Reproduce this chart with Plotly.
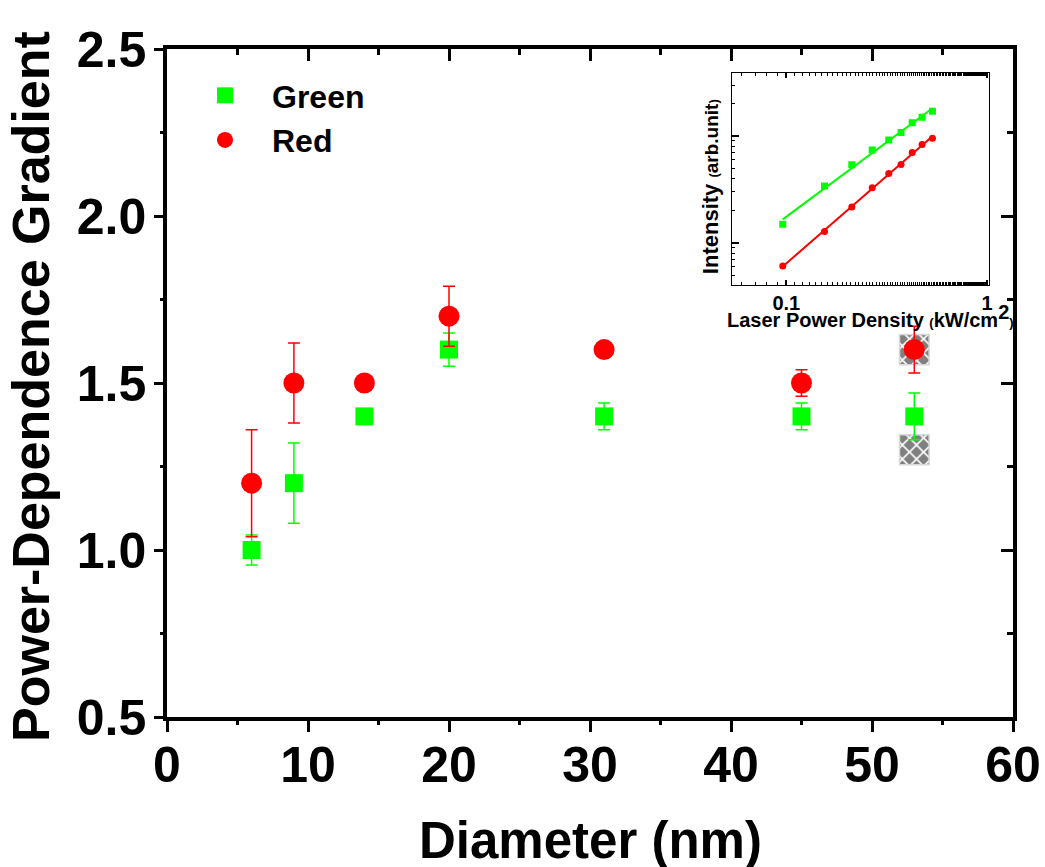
import numpy as np
import plotly.graph_objects as go

# ---------------- data (main panel) ----------------
diameter = [6, 9, 14, 20, 31, 45, 53]
green_grad = [1.0, 1.2, 1.4, 1.6, 1.4, 1.4, 1.4]
green_err = [0.045, 0.12, 0.02, 0.05, 0.04, 0.04, 0.07]
red_grad = [1.2, 1.5, 1.5, 1.7, 1.6, 1.5, 1.6]
red_err = [0.16, 0.12, 0.0, 0.09, 0.0, 0.04, 0.07]
hatch_x = [53, 53]
hatch_y = [1.6, 1.3]

# ---------------- data (inset) ----------------
power = [0.096, 0.155, 0.212, 0.268, 0.324, 0.373, 0.424, 0.475, 0.535]
green_int = [150, 341, 538, 740, 920, 1079, 1330, 1496, 1702]
red_int = [61, 128, 217, 329, 446, 542, 703, 832, 953]

x_ticks = [0, 10, 20, 30, 40, 50, 60]
y_ticks = [0.5, 1.0, 1.5, 2.0, 2.5]

FONT = "Arial, Liberation Sans, sans-serif"
GREEN = "#00ff00"
RED = "#ff0000"

fig = go.Figure()

# hatched reference squares
fig.add_trace(go.Bar(
    x=hatch_x, y=[0.09] * len(hatch_y), base=[v - 0.045 for v in hatch_y],
    width=2.1, showlegend=False, hoverinfo="skip",
    marker=dict(color="#808080",
                pattern=dict(shape="x", fgcolor="white", bgcolor="#808080",
                             size=10, solidity=0.3, fillmode="replace"),
                line=dict(color="#d8d8d8", width=1.5)),
))

fig.add_trace(go.Scatter(
    x=diameter, y=green_grad, mode="markers", name="Green",
    marker=dict(symbol="square", size=18, color=GREEN),
    error_y=dict(type="data", array=green_err, color=GREEN, thickness=1.5, width=6),
))
fig.add_trace(go.Scatter(
    x=diameter, y=red_grad, mode="markers", name="Red",
    marker=dict(symbol="circle", size=21, color=RED),
    error_y=dict(type="data", array=red_err, color=RED, thickness=1.5, width=6),
))

# invisible anchor traces so the tick-only overlay axes get drawn
for xa, ya in [("x3", "y"), ("x4", "y"), ("x", "y3"), ("x", "y4")]:
    fig.add_trace(go.Scatter(x=[diameter[0]], y=[green_grad[0]], xaxis=xa, yaxis=ya,
                             mode="markers", marker=dict(opacity=0), showlegend=False,
                             hoverinfo="skip"))

# inset fits (log-log linear regression)
def fit_line(xv, yv):
    lx = np.log10(np.array(xv))
    ly = np.log10(np.array(yv))
    k, b = np.polyfit(lx, ly, 1)
    xe = np.array([xv[0], xv[-1]])
    return xe, 10 ** (k * np.log10(xe) + b)

for yv, col, sym in [(green_int, GREEN, "square"), (red_int, RED, "circle")]:
    xe, ye = fit_line(power, yv)
    fig.add_trace(go.Scatter(x=xe, y=ye, mode="lines", line=dict(color=col, width=2),
                             xaxis="x2", yaxis="y2", showlegend=False, hoverinfo="skip"))
    fig.add_trace(go.Scatter(x=power, y=yv, mode="markers",
                             marker=dict(symbol=sym, size=7, color=col),
                             xaxis="x2", yaxis="y2", showlegend=False))

ax_common = dict(showgrid=False, zeroline=False, linecolor="black", linewidth=3.5,
                 tickwidth=3, automargin=False)
tick_only = dict(showticklabels=False, showline=False, showgrid=False, zeroline=False,
                 tickcolor="black", tickwidth=3)

fig.update_layout(
    width=1045, height=867,
    margin=dict(l=167, r=32, t=49, b=150, autoexpand=False),
    paper_bgcolor="white", plot_bgcolor="white",
    barmode="overlay",
    font=dict(family=FONT, color="black"),
    # main axes: labels + lines (major tick marks drawn by overlay axes below)
    xaxis=dict(range=[0, 60], tickvals=x_ticks, ticks="outside", ticklen=1,
               tickcolor="rgba(0,0,0,0)", mirror=True, showline=True,
               tickfont=dict(size=50, family=FONT, weight="bold"), **ax_common),
    yaxis=dict(range=[0.5, 2.5], tickvals=y_ticks, tickformat=".1f", ticks="outside", ticklen=7,
               tickcolor="rgba(0,0,0,0)", mirror=True, showline=True,
               tickfont=dict(size=50, family=FONT, weight="bold"), **ax_common),
    # bottom / left tick marks (outside)
    xaxis4=dict(overlaying="x", side="bottom", anchor="y", range=[0, 60], tickvals=x_ticks,
                ticks="outside", ticklen=14,
                minor=dict(dtick=5, ticks="outside", ticklen=7, tickwidth=3, tickcolor="black"),
                **tick_only),
    yaxis4=dict(overlaying="y", side="left", anchor="x", range=[0.5, 2.5], tickvals=y_ticks,
                ticks="outside", ticklen=12,
                minor=dict(dtick=0.25, ticks="outside", ticklen=6, tickwidth=3, tickcolor="black"),
                **tick_only),
    # top / right tick marks (inside)
    xaxis3=dict(overlaying="x", side="top", anchor="y", range=[0, 60], tickvals=x_ticks,
                ticks="inside", ticklen=12,
                minor=dict(dtick=5, ticks="inside", ticklen=6, tickwidth=3, tickcolor="black"),
                **tick_only),
    yaxis3=dict(overlaying="y", side="right", anchor="x", range=[0.5, 2.5], tickvals=y_ticks,
                ticks="inside", ticklen=12,
                minor=dict(dtick=0.25, ticks="inside", ticklen=6, tickwidth=3, tickcolor="black"),
                **tick_only),
    xaxis2=dict(type="log", domain=[0.668, 0.9716], anchor="y2", range=[-1.27, 0.01],
                tickvals=[0.1, 1], ticktext=["0.1", "1"], ticks="inside", ticklen=5,
                mirror="allticks", showline=True, linecolor="black", linewidth=1,
                minor=dict(ticks="inside", ticklen=3, tickcolor="black", tickwidth=1, showgrid=False),
                tickfont=dict(size=20, family=FONT, weight="bold"),
                showgrid=False, zeroline=False, tickcolor="black", tickwidth=1.5),
    yaxis2=dict(type="log", domain=[0.6467, 0.964], anchor="x2", range=[1.607, 3.589],
                dtick=1, ticks="inside", ticklen=7, showticklabels=False,
                mirror=True, showline=True, linecolor="black", linewidth=1,
                minor=dict(ticks="inside", ticklen=3, tickcolor="black", tickwidth=1, showgrid=False),
                showgrid=False, zeroline=False, tickcolor="black", tickwidth=1.5),
    legend=dict(x=0.013, y=0.9715, xanchor="left", yanchor="top", itemwidth=84,
                bgcolor="rgba(0,0,0,0)", font=dict(size=32, family=FONT, weight="bold"),
                tracegroupgap=0),
    showlegend=True,
)

fig.add_annotation(text="<b>Diameter (nm)</b>", xref="paper", yref="paper", x=0.5, y=0,
                   xanchor="center", yanchor="middle", yshift=-123, showarrow=False,
                   font=dict(size=51, family=FONT))
fig.add_annotation(text="<b>Power-Dependence Gradient</b>", xref="paper", yref="paper",
                   x=0, y=0.5, xanchor="center", yanchor="middle", xshift=-136, yshift=-4,
                   textangle=-90, showarrow=False, font=dict(size=52, family=FONT))
fig.add_annotation(text="<b>Intensity <span style='font-size:13px'>(</span>"
                        "<span style='font-size:19px'>arb.unit</span>"
                        "<span style='font-size:13px'>)</span></b>",
                   xref="paper", yref="paper", x=0.668, y=(0.6467 + 0.964) / 2,
                   xanchor="center", yanchor="middle", xshift=-22, yshift=-8,
                   textangle=-90, showarrow=False, font=dict(size=22, family=FONT))
fig.add_annotation(text="<b>Laser Power Density <span style='font-size:13px'>(</span>kW/cm"
                        "<sup><span style='font-size:20px'>2</span></sup>"
                        "<span style='font-size:13px'>)</span></b>",
                   xref="paper", yref="paper", x=(0.668 + 0.9716) / 2 + 0.012, y=0.6467,
                   xanchor="center", yanchor="middle", yshift=-31,
                   showarrow=False, font=dict(size=20, family=FONT))

fig.write_html("out.html", config={"displayModeBar": False},
               post_script="document.body.style.margin='0';"
                           "document.body.style.overflow='hidden';")
